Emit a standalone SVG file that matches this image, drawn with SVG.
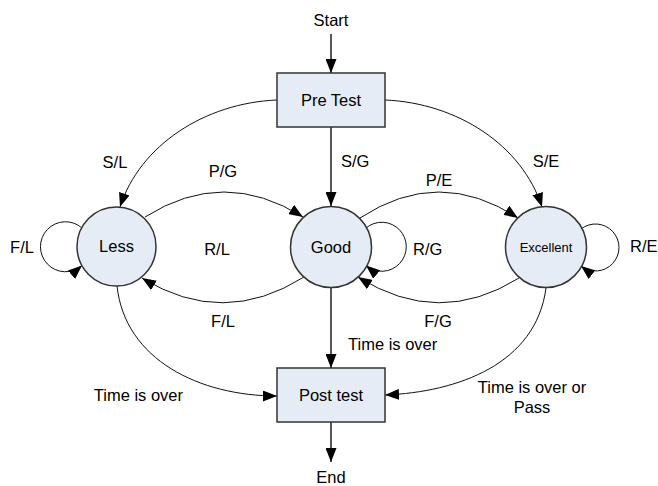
<svg xmlns="http://www.w3.org/2000/svg" width="658" height="486" viewBox="0 0 658 486">
<style>
.node{fill:#e6ecf6;stroke:#333;stroke-width:1.5}
.ln{fill:none;stroke:#111;stroke-width:1;marker-end:url(#ah)}
.vl{fill:none;stroke:#111;stroke-width:1.4;marker-end:url(#ah)}
text{font-family:"Liberation Sans",Arial,sans-serif;font-size:16.5px;fill:#000}
.m{text-anchor:middle}
.e{text-anchor:end}
</style>
<defs>
<marker id="ah" markerUnits="userSpaceOnUse" markerWidth="14" markerHeight="11" refX="14" refY="5.5" orient="auto">
<path d="M0,0 L14,5.5 L0,11 z" fill="#000"/>
</marker>
</defs>
<rect width="658" height="486" fill="#fff"/>
<g id="connectors">
<path class="vl" d="M331,34 L331,73"/>
<path class="vl" d="M331,127 L331,206"/>
<path class="ln" d="M277,100 C205,103 140,145 120,207"/>
<path class="ln" d="M385,100 C457,103 522,145 542,207"/>
<path class="ln" d="M145,217 Q224,167 303,217"/>
<path class="ln" d="M360,218 Q439,166 518,218"/>
<path class="ln" d="M304,277 Q223,328 142,278"/>
<path class="ln" d="M519,278 Q439,328 358,277"/>
<path class="ln" d="M82,228 A25 25 0 1 0 82,265.5"/>
<path class="ln" d="M366,228 A24.5 24.5 0 1 1 366,265.5"/>
<path class="ln" d="M581,229 A23.5 23.5 0 1 1 581,266"/>
<path class="vl" d="M331,288 L331,368"/>
<path class="ln" d="M117,286 C125,360 200,396 277,396"/>
<path class="ln" d="M546,288 C536,364 458,392 385,395"/>
<path class="vl" d="M331,422 L331,462"/>
</g>
<g id="pretest"><rect class="node" x="277" y="73" width="108" height="54"/><text class="m" x="331" y="106">Pre Test</text></g>
<g id="less"><circle class="node" cx="116.5" cy="246.5" r="39.5"/><text class="m" x="116.5" y="252">Less</text></g>
<g id="good"><circle class="node" cx="331" cy="247" r="40.5"/><text class="m" x="331" y="253">Good</text></g>
<g id="excellent"><circle class="node" cx="546" cy="247" r="40.5"/><text class="m" x="546" y="252" style="font-size:13px">Excellent</text></g>
<g id="posttest"><rect class="node" x="277" y="368" width="108" height="54"/><text class="m" x="331" y="401">Post test</text></g>
<g id="labels">
<text class="m" x="331" y="26">Start</text>
<text class="m" x="115" y="168">S/L</text>
<text x="341" y="167">S/G</text>
<text class="m" x="546" y="167">S/E</text>
<text class="m" x="223" y="177">P/G</text>
<text class="m" x="439" y="186">P/E</text>
<text class="m" x="22" y="253">F/L</text>
<text class="m" x="217" y="255">R/L</text>
<text x="413" y="255">R/G</text>
<text x="630" y="252">R/E</text>
<text class="m" x="223" y="327">F/L</text>
<text class="m" x="438" y="327">F/G</text>
<text x="348" y="350">Time is over</text>
<text class="e" x="183" y="401">Time is over</text>
<text class="m" x="532" y="393">Time is over or</text>
<text class="m" x="532" y="413">Pass</text>
<text class="m" x="331" y="483">End</text>
</g>
</svg>
